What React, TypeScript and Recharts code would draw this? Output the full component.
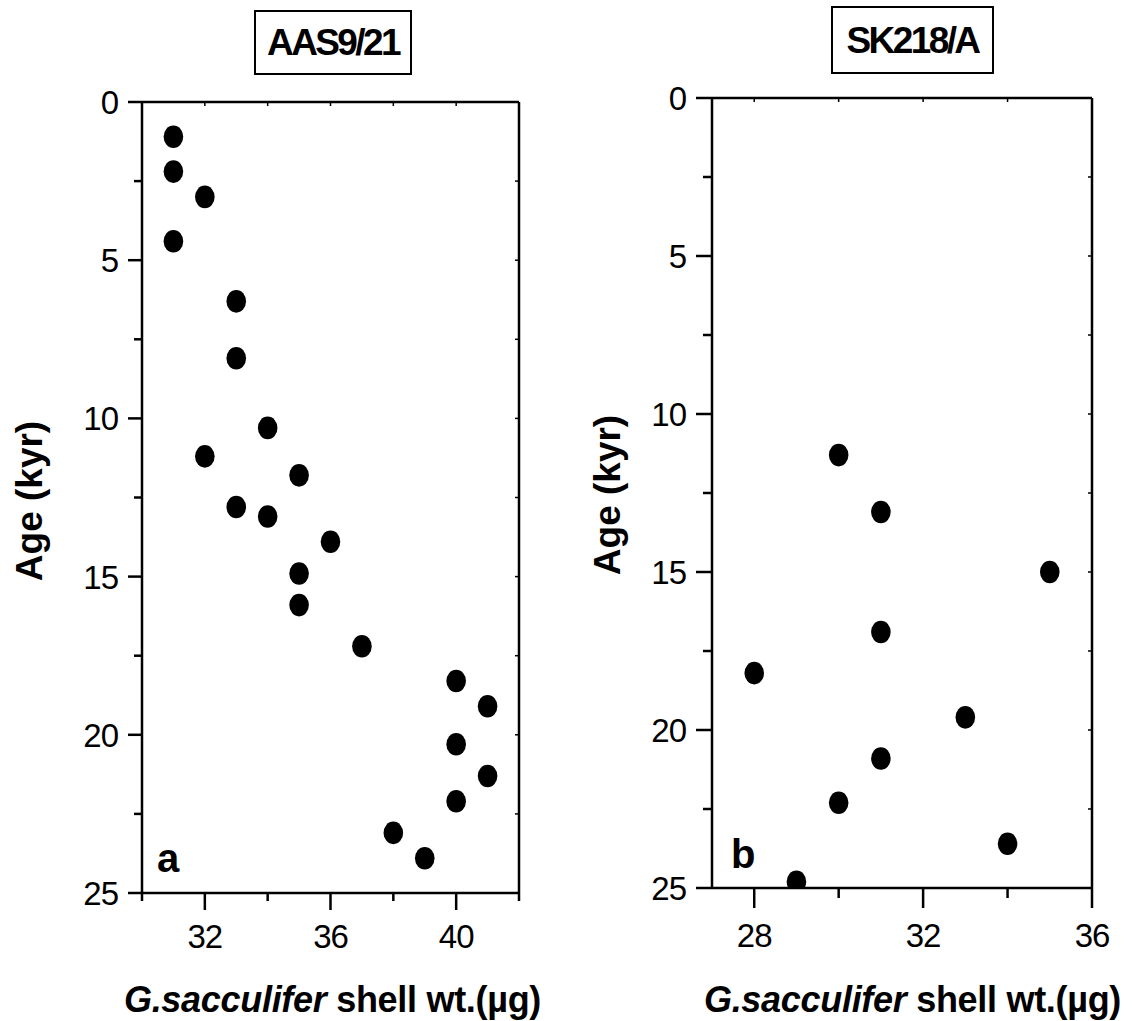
import React from 'react';
import { ScatterChart, Scatter, XAxis, YAxis, Label, ReferenceLine } from 'recharts';

// age axis (shared)
const ageTicks = [0, 2.5, 5, 7.5, 10, 12.5, 15, 17.5, 20, 22.5, 25];
const ageLabels = [0, 5, 10, 15, 20, 25];

// AAS9/21
const aasWt = [31, 31, 32, 31, 33, 33, 34, 32, 35, 33, 34, 36, 35, 35, 37, 40, 41, 40, 41, 40, 38, 39];
const aasAge = [1.1, 2.2, 3.0, 4.4, 6.3, 8.1, 10.3, 11.2, 11.8, 12.8, 13.1, 13.9, 14.9, 15.9, 17.2, 18.3, 19.1, 20.3, 21.3, 22.1, 23.1, 23.9];
const aasWtTicks = [30, 32, 34, 36, 38, 40, 42];
const aasWtLabels = [32, 36, 40];

// SK218/A
const skWt = [30, 31, 35, 31, 28, 33, 31, 30, 34, 29];
const skAge = [11.3, 13.1, 15.0, 16.9, 18.2, 19.6, 20.9, 22.3, 23.6, 24.8];
const skWtTicks = [28, 30, 32, 34, 36];
const skWtLabels = [28, 32, 36];

const H = 1021;
const FONT = '"Liberation Sans", Arial, sans-serif';
const axisStyle = { stroke: '#000', strokeWidth: 2.5 };

const panels = [
  {
    title: 'AAS9/21', letter: 'a', wt: aasWt, age: aasAge,
    xDomain: [30, 42], xTicks: aasWtTicks, xLabels: aasWtLabels,
    left: 0, width: 560, top: 102, right: 41, xAxisH: 128, yAxisW: 142,
    xMajor: 17, xMinor: 8, xBase: 55, yMajor: 14, yMinor: 8, yGap: 24,
    yLabelX: 42, yLabelDy: 3.5, xLabelBase: 119, xLabelDx: 2,
    box: { x: 255, y: 11, w: 156, h: 63, base: 55 },
    letterPos: { x: 157, y: 872 },
  },
  {
    title: 'SK218/A', letter: 'b', wt: skWt, age: skAge,
    xDomain: [27, 36], xTicks: skWtTicks, xLabels: skWtLabels,
    left: 566, width: 566, top: 98, right: 40, xAxisH: 133, yAxisW: 146,
    xMajor: 20, xMinor: 10, xBase: 59, yMajor: 16, yMinor: 9, yGap: 26,
    yLabelX: 54, yLabelDy: 2, xLabelBase: 124, xLabelDx: 10.5,
    box: { x: 832, y: 7, w: 161, h: 66, base: 53 },
    letterPos: { x: 731, y: 868 },
  },
];

const Dot = (p: any) => <ellipse cx={p.cx} cy={p.cy} rx={9.8} ry={11.3} fill="#000" />;

function Panel({ cfg }: { cfg: any }) {
  const data = cfg.wt.map((w: number, i: number) => ({ wt: w, age: cfg.age[i] }));

  const bottomTick = (p: any) => {
    const major = cfg.xLabels.includes(p.payload.value);
    return (
      <g>
        <line x1={p.x} y1={p.y} x2={p.x} y2={p.y + (major ? cfg.xMajor : cfg.xMinor)} stroke="#000" strokeWidth={2.5} />
        {major && (
          <text x={p.x} y={p.y + cfg.xBase} textAnchor="middle" fontSize={33} letterSpacing={-1} fontFamily={FONT} fill="#000">
            {p.payload.value}
          </text>
        )}
      </g>
    );
  };

  const leftTick = (p: any) => {
    const major = ageLabels.includes(p.payload.value);
    return (
      <g>
        <line x1={p.x} y1={p.y} x2={p.x - (major ? cfg.yMajor : cfg.yMinor)} y2={p.y} stroke="#000" strokeWidth={2.5} />
        {major && (
          <text x={p.x - cfg.yGap} y={p.y + 12} textAnchor="end" fontSize={33} letterSpacing={-1} fontFamily={FONT} fill="#000">
            {p.payload.value}
          </text>
        )}
      </g>
    );
  };

  const topTick = (p: any) => <line x1={p.x} y1={p.y} x2={p.x} y2={p.y + 4} stroke="#000" strokeWidth={1.5} />;
  const rightTick = (p: any) => <line x1={p.x} y1={p.y} x2={p.x - 4} y2={p.y} stroke="#000" strokeWidth={1.5} />;

  const xLabel = (p: any) => {
    const vb = p.viewBox;
    return (
      <text x={vb.x + vb.width / 2 + cfg.xLabelDx} y={vb.y + cfg.xLabelBase} textAnchor="middle" fontSize={36} fontWeight="bold" letterSpacing={-0.3} fontFamily={FONT} fill="#000">
        <tspan fontStyle="italic">G.sacculifer</tspan>
        <tspan> shell wt.(µg)</tspan>
      </text>
    );
  };

  const yLabel = (p: any) => {
    const vb = p.viewBox;
    const cx = vb.x + cfg.yLabelX;
    const cy = vb.y + vb.height / 2 + cfg.yLabelDy;
    return (
      <text x={cx} y={cy} transform={`rotate(-90, ${cx}, ${cy})`} textAnchor="middle" fontSize={37} fontWeight="bold" fontFamily={FONT} fill="#000">
        Age (kyr)
      </text>
    );
  };

  return (
    <div style={{ position: 'absolute', left: cfg.left, top: 0 }}>
      <ScatterChart width={cfg.width} height={H} margin={{ top: cfg.top - 1, right: cfg.right - 1, bottom: 0, left: 0 }}>
        <XAxis
          xAxisId="b" type="number" dataKey="wt" orientation="bottom"
          domain={cfg.xDomain} ticks={cfg.xTicks} interval={0} allowDataOverflow
          height={cfg.xAxisH} tickSize={0} tickMargin={0} tickLine={false}
          axisLine={axisStyle} tick={bottomTick}
        >
          <Label content={xLabel} />
        </XAxis>
        <XAxis
          xAxisId="t" type="number" dataKey="wt" orientation="top"
          domain={cfg.xDomain} ticks={cfg.xTicks} interval={0} allowDataOverflow
          height={1} tickSize={0} tickMargin={0} tickLine={false}
          axisLine={false} tick={topTick}
        />
        <YAxis
          yAxisId="l" type="number" dataKey="age" orientation="left" reversed
          domain={[0, 25]} ticks={ageTicks} interval={0} allowDataOverflow
          width={cfg.yAxisW} tickSize={0} tickMargin={0} tickLine={false}
          axisLine={axisStyle} tick={leftTick}
        >
          <Label content={yLabel} />
        </YAxis>
        <YAxis
          yAxisId="r" type="number" dataKey="age" orientation="right" reversed
          domain={[0, 25]} ticks={ageTicks} interval={0} allowDataOverflow
          width={1} tickSize={0} tickMargin={0} tickLine={false}
          axisLine={false} tick={rightTick}
        />
        <ReferenceLine xAxisId="b" yAxisId="l" y={0} stroke="#000" strokeWidth={2.5} />
        <ReferenceLine xAxisId="b" yAxisId="l" x={cfg.xDomain[1]} stroke="#000" strokeWidth={2.5} />
        <Scatter data={data} xAxisId="b" yAxisId="l" shape={Dot} isAnimationActive={false} />
      </ScatterChart>
    </div>
  );
}

export default function App() {
  return (
    <div style={{ position: 'absolute', left: 0, top: 0, width: 1132, height: H, background: '#fff' }}>
      {panels.map((cfg) => (
        <Panel key={cfg.title} cfg={cfg} />
      ))}
      <svg width={1132} height={H} style={{ position: 'absolute', left: 0, top: 0, pointerEvents: 'none' }}>
        {panels.map((cfg) => (
          <g key={cfg.title}>
            <rect x={cfg.box.x} y={cfg.box.y} width={cfg.box.w} height={cfg.box.h} fill="none" stroke="#000" strokeWidth={2} />
            <text x={cfg.box.x + cfg.box.w / 2} y={cfg.box.base} textAnchor="middle" fontSize={37} fontWeight="bold" letterSpacing={-2.6} fontFamily={FONT}>
              {cfg.title}
            </text>
            <text x={cfg.letterPos.x} y={cfg.letterPos.y} fontSize={40} fontWeight="bold" fontFamily={FONT}>
              {cfg.letter}
            </text>
          </g>
        ))}
      </svg>
    </div>
  );
}
